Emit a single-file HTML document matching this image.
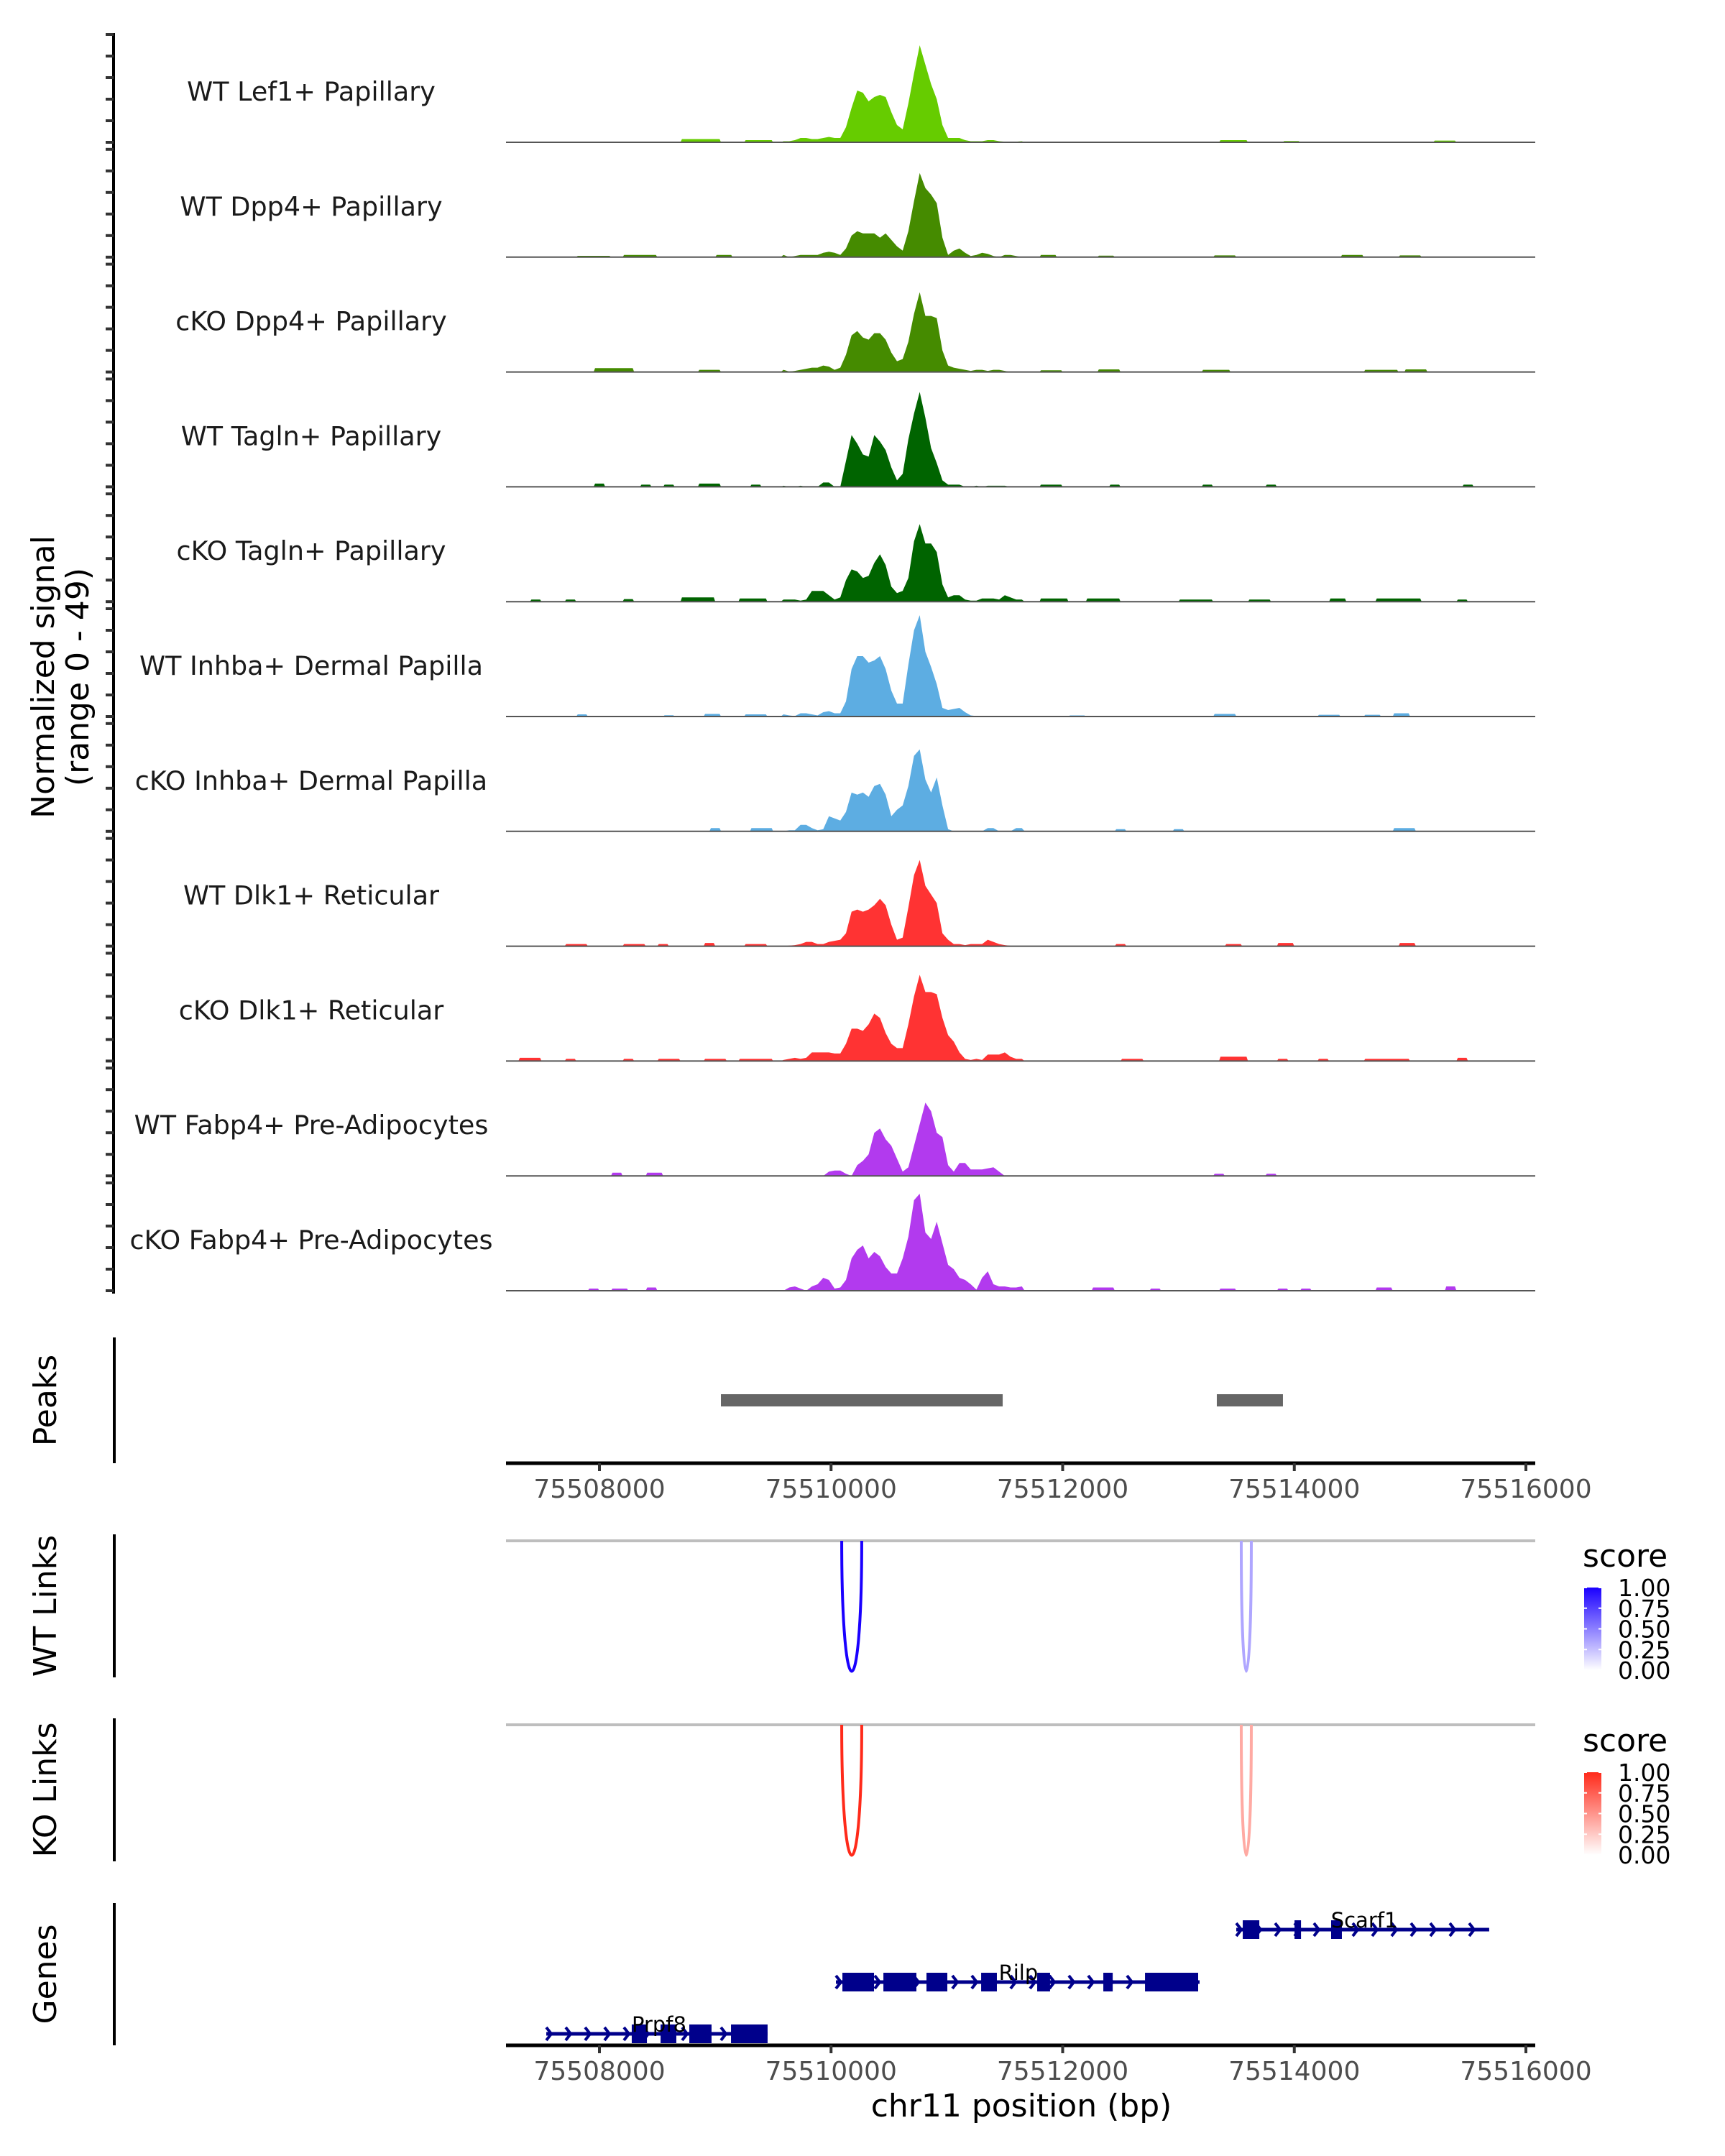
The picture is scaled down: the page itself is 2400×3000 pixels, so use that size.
<!DOCTYPE html>
<html><head><meta charset="utf-8"><style>
html,body{margin:0;padding:0;background:#fff;}
svg{display:block;font-family:"DejaVu Sans","Liberation Sans",sans-serif;}
</style></head><body>
<svg id="fig" width="2400" height="3000" viewBox="0 0 2400 3000" xmlns="http://www.w3.org/2000/svg">
<rect width="2400" height="3000" fill="#fff"/>
<defs>
<clipPath id="plotClip"><rect x="704" y="0" width="1432" height="1820"/></clipPath>
<linearGradient id="gBlue" x1="0" y1="1" x2="0" y2="0"><stop offset="0" stop-color="#ffffff"/><stop offset="1" stop-color="#1a00ff"/></linearGradient>
<linearGradient id="gRed" x1="0" y1="1" x2="0" y2="0"><stop offset="0" stop-color="#ffffff"/><stop offset="1" stop-color="#ff2a1a"/></linearGradient>
</defs>
<g id="tracks"></g>
<g id="peaks"></g>
<g id="links"></g>
<g id="genes"></g>
</svg>
<script>
// ---------- data ----------
const trackNames = ["WT Lef1+ Papillary","WT Dpp4+ Papillary","cKO Dpp4+ Papillary","WT Tagln+ Papillary","cKO Tagln+ Papillary","WT Inhba+ Dermal Papilla","cKO Inhba+ Dermal Papilla","WT Dlk1+ Reticular","cKO Dlk1+ Reticular","WT Fabp4+ Pre-Adipocytes","cKO Fabp4+ Pre-Adipocytes"];
const trackColors = ["#66cc00","#458b00","#458b00","#006400","#006400","#5dade2","#5dade2","#ff3333","#ff3333","#b23aee","#b23aee"];
const coreStart = 75509565;
const coreBinSize = 49;
const coreLef1 = [0.5,0.5,1,2,2,1.5,1.5,2,2.5,2,2,7,16,24,23,19,21,22,21,14,8,6,18,32,45,36,27,20,8,2,2,2,1,0.5,0.5,0.5,1,1,0.5,0.3,0.3,0.3,0.5];
const coreDpp4WT = [1,0,0.5,1,1,1,1,2,2.5,2,1,4,10,12,11,11,11,9,11,8,5,3,12,26,39,32,29,25,9,1,3,4,2,0.5,1,2,1.5,0.5,0,1,1,0.5,0];
const coreDpp4KO = [1,0.2,0.5,1,1.5,2,2,3,2.5,1,2,8,17,19,16,15,18,18,15,9,5,6,14,27,37,26,26,25,10,3,2,1.5,1,0.5,1,1,0.5,1,1,0.5,0,0,0];
const coreTaglnWT = [0.5,0,0,0.5,0,0,0,2,2,0,0,12,24,20,15,14,24,21,17,9,3,6,22,34,44,32,18,11,3,1,1,1,0,0,0.5,0,0.5,0.5,0.5,0.5,0,0,0];
const coreTaglnKO = [1,1,1,0.5,1,5,5,5,3,1,2,10,15,14,11,12,18,22,17,7,4,5,11,28,36,27,27,23,8,2,3,3,1,0.5,0.5,1.5,1.5,1.5,1,3,2,1,1];
const coreInhbaWT = [1,0.5,0.2,1.5,1.5,1,0.5,2,2.5,1.5,1.5,7,22,28,28,25,26,28,22,12,6,6,24,40,47,30,23,15,4,3,3.5,4,2,0.5,0.2,0.2,0.2,0.2,0.1,0,0,0,0];
const coreInhbaKO = [0,0.5,0.5,3,3,1.5,0.5,1,7,6,5,9,18,17,18,16,21,22,17,7,10,12,21,35,38,24,18,25,12,1,0,0,0,0,0,0,1.5,1.5,0,0,0,1.5,1.5];
const coreDlk1WT = [0,0.3,0.5,1,2,2,1,1,2,2.5,3,6,16,17,16,17,19,22,19,10,3,4,18,33,40,28,24,20,6,3,1,1,0.5,1,1,1,3,2,1,0.5,0.2,0,0];
const coreDlk1KO = [0.5,1,1.5,1,1.5,4,4,4,4,3.5,3.5,8,15,15,14,17,22,20,13,8,6,6,17,30,40,32,32,31,20,12,9,4,1,0.5,1,0.5,3,3,3,4,2,1,1];
const coreFabp4WT = [0,0,0,0,0,0,0,0,2,2.5,2.5,1,0,5,7,10,20,22,17,14,8,2,4,14,24,34,30,20,18,5,2,6,6,3,3,3,3.5,4,2,0,0,0,0];
const coreFabp4KO = [0,1.5,2,1,0,2,3,6,5,1,1.5,5,15,19,21,15,18,16,11,8,8,15,25,42,45,27,24,32,22,12,10,6,5,3,0.5,6,9,3,2,2,1.5,1.5,2];
const coreValues = [coreLef1,coreDpp4WT,coreDpp4KO,coreTaglnWT,coreTaglnKO,coreInhbaWT,coreInhbaKO,coreDlk1WT,coreDlk1KO,coreFabp4WT,coreFabp4KO];
// background bumps: [start bp, end bp, value]
const bgLef1 = [[75508700,75509050,1.5],[75509250,75509500,1],[75513350,75513600,1],[75513900,75514050,0.6],[75515200,75515400,0.8]];
const bgDpp4WT = [[75507800,75508100,0.6],[75508200,75508500,1],[75509000,75509150,1],[75511800,75511950,1],[75512300,75512450,0.7],[75513300,75513500,0.8],[75514400,75514600,1],[75514900,75515100,0.8]];
const bgDpp4KO = [[75507950,75508300,1.8],[75508850,75509050,1],[75511800,75512000,0.8],[75512300,75512500,1.2],[75513200,75513450,1],[75514600,75514900,1],[75514950,75515150,1.2]];
const bgTaglnWT = [[75507950,75508050,1.5],[75508350,75508450,1],[75508550,75508650,1],[75508850,75509050,1.5],[75509300,75509400,1],[75511800,75512000,1],[75512400,75512500,1],[75513200,75513300,1],[75513750,75513850,1],[75515450,75515550,1]];
const bgTaglnKO = [[75507400,75507500,1],[75507700,75507800,1],[75508200,75508300,1.2],[75508700,75509000,2],[75509200,75509450,1.5],[75511800,75512050,1.5],[75512200,75512500,1.5],[75513000,75513300,1],[75513600,75513800,1],[75514300,75514450,1.5],[75514700,75515100,1.5],[75515400,75515500,1]];
const bgInhbaWT = [[75507800,75507900,1],[75508550,75508650,0.6],[75508900,75509050,1.2],[75509250,75509450,1],[75512050,75512200,0.5],[75513300,75513500,1.2],[75514200,75514400,0.8],[75514600,75514750,0.8],[75514850,75515000,1.5]];
const bgInhbaKO = [[75508950,75509050,1.5],[75509300,75509500,1.5],[75512450,75512550,1],[75512950,75513050,1],[75514850,75515050,1.5]];
const bgDlk1WT = [[75507700,75507900,1],[75508200,75508400,1],[75508500,75508600,1],[75508900,75509000,1.5],[75509250,75509450,1],[75512450,75512550,1],[75513400,75513550,1],[75513850,75514000,1.5],[75514900,75515050,1.5]];
const bgDlk1KO = [[75507300,75507500,1.5],[75507700,75507800,1],[75508200,75508300,1],[75508500,75508700,1],[75508900,75509100,1],[75509200,75509500,1],[75512500,75512700,1],[75513350,75513600,2],[75513850,75513950,1],[75514200,75514300,1],[75514600,75515000,1],[75515400,75515500,1.5]];
const bgFabp4WT = [[75508100,75508200,1.5],[75508400,75508550,1.5],[75513300,75513400,1],[75513750,75513850,1]];
const bgFabp4KO = [[75507900,75508000,1],[75508100,75508250,1],[75508400,75508500,1.5],[75512250,75512450,1.5],[75512750,75512850,1],[75513350,75513500,1],[75513850,75513950,1],[75514050,75514150,1],[75514700,75514850,1.5],[75515300,75515400,2]];
const bgValues = [bgLef1,bgDpp4WT,bgDpp4KO,bgTaglnWT,bgTaglnKO,bgInhbaWT,bgInhbaKO,bgDlk1WT,bgDlk1KO,bgFabp4WT,bgFabp4KO];
const peakStarts = [75509049,75513331];
const peakEnds = [75511482,75513902];
const linkStarts = [75510092,75513542];
const linkEnds = [75510265,75513629];
const wtLinkScores = [1.0,0.35];
const koLinkScores = [1.0,0.4];
const xTicks = [75508000,75510000,75512000,75514000,75516000];
const legendTicks = [0,0.25,0.5,0.75,1];
const geneNames = ["Scarf1","Rilp","Prpf8"];
const geneStarts = [75513499,75510042,75507541];
const geneEnds = [75515683,75513182,75509452];
const geneExons = [
  [[75513555,75513698],[75514002,75514058],[75514318,75514411]],
  [[75510098,75510371],[75510452,75510737],[75510824,75511004],[75511296,75511432],[75511780,75511891],[75512351,75512432],[75512711,75513170]],
  [[75508279,75508410],[75508528,75508664],[75508776,75508968],[75509136,75509452]]
];
const geneLabelPos = [75514604,75511618,75508515];
const yTicks = [0,10,20,30,40,50];

// ---------- scales ----------
const NS = "http://www.w3.org/2000/svg";
function xs(bp){ return 834 + (bp - 75508000) * 0.161125; }
const plotL = 704, plotR = 2136;
const trackBase0 = 198, trackStep = 159.8, pxPerUnit = 3.0;
function ys(i, v){ return trackBase0 + i*trackStep - v*pxPerUnit; }
function el(tag, attrs, parent){ const e = document.createElementNS(NS, tag); for (const k in attrs) e.setAttribute(k, attrs[k]); parent.appendChild(e); return e; }

// ---------- coverage tracks ----------
const gT = document.getElementById('tracks');
const axisL = el('line',{x1:158,y1:46,x2:158,y2:1800,stroke:'#000','stroke-width':4},gT);


trackNames.forEach((name,i)=>{
  const g = el('g',{},gT);
  
  
  const gc = el('g',{'clip-path':'url(#plotClip)'},g);
  
  
  const base = ys(i,0);
  bgValues[i].forEach(b=>{
    const x1 = xs(b[0]), x2 = xs(b[1]), yv = ys(i,b[2]);
    const p = el('path',{d:`M${x1},${base}L${x1+2},${yv}L${x2-2},${yv}L${x2},${base}Z`,fill:trackColors[i]},gc);
    
    
  });
  const vals = coreValues[i];
  let d = `M${xs(coreStart)},${base}`;
  vals.forEach((v,k)=>{ d += `L${xs(coreStart + (k+0.5)*coreBinSize).toFixed(1)},${ys(i,v).toFixed(1)}`; });
  d += `L${xs(coreStart + vals.length*coreBinSize)},${base}Z`;
  const area = el('path',{d:d,fill:trackColors[i]},gc);
  
  
  const bl = el('line',{x1:plotL,y1:base,x2:plotR,y2:base,stroke:'#555','stroke-width':2},g);
  
  
  yTicks.forEach(t=>{
    const tk = el('line',{x1:147,y1:ys(i,t),x2:158,y2:ys(i,t),stroke:'#333','stroke-width':4},g);
    
    
  });
  const lab = el('text',{x:433,y:base-58,'text-anchor':'middle','font-size':36.5,fill:'#1a1a1a'},g);
  lab.textContent = name;
  
  
});
const yt = el('text',{transform:'translate(75,942) rotate(-90)','text-anchor':'middle','font-size':44,fill:'#000'},gT);


const t1 = el('tspan',{x:0,dy:0},yt); t1.textContent='Normalized signal';
const t2 = el('tspan',{x:0,dy:48},yt); t2.textContent='(range 0 - 49)';

// ---------- x axis helper ----------
function xAxis(parent, y, name){
  const g = el('g',{},parent);
  
  
  el('line',{x1:plotL,y1:y,x2:plotR,y2:y,stroke:'#000','stroke-width':5},g);
  xTicks.forEach(t=>{
    el('line',{x1:xs(t),y1:y,x2:xs(t),y2:y+11,stroke:'#333','stroke-width':4},g);
    const tx = el('text',{x:xs(t),y:y+48,'text-anchor':'middle','font-size':36,fill:'#4d4d4d'},g);
    tx.textContent = String(t);
    
    
  });
}
function panelTitle(parent, txt, y1, y2, name){
  const a = el('line',{x1:159,y1:y1,x2:159,y2:y2,stroke:'#000','stroke-width':4},parent);
  
  
  const t = el('text',{transform:`translate(78,${(y1+y2)/2}) rotate(-90)`,'text-anchor':'middle','font-size':44,fill:'#000'},parent);
  t.textContent = txt;
  
  
}

// ---------- peaks ----------
const gP = document.getElementById('peaks');
panelTitle(gP,'Peaks',1861,2036,'peaks');
peakStarts.forEach((s,k)=>{
  const r = el('rect',{x:xs(s),y:1940,width:xs(peakEnds[k])-xs(s),height:17,fill:'#666'},gP);
  
  
});
xAxis(gP,2036,'peaks-x-axis');

// ---------- links ----------
const gL = document.getElementById('links');
function linkPanel(title, y1, y2, lineY, depthY, scores, hue, grad, name, legY){
  panelTitle(gL,title,y1,y2,name);
  const base = el('line',{x1:plotL,y1:lineY,x2:plotR,y2:lineY,stroke:'#bebebe','stroke-width':4},gL);
  
  
  linkStarts.forEach((s,k)=>{
    const a = xs(s), b = xs(linkEnds[k]), dep = depthY - lineY;
    const sc = scores[k];
    const col = hue==='b' ? `rgb(${Math.round(255-229*sc)},${Math.round(255-255*sc)},255)` : `rgb(255,${Math.round(255-213*sc)},${Math.round(255-229*sc)})`;
    const p = el('path',{d:`M${a},${lineY}C${a},${lineY+dep*1.33} ${b},${lineY+dep*1.33} ${b},${lineY}`,fill:'none',stroke:col,'stroke-width':4},gL);
    
    
  });
  const lg = el('g',{},gL);
  
  
  const st = el('text',{x:2202,y:legY-27,'font-size':44,fill:'#000'},lg); st.textContent='score';
  const bt = legY+2, bb = legY+117;
  el('rect',{x:2204,y:bt,width:24,height:bb-bt,fill:`url(#${grad})`},lg);
  legendTicks.forEach(t=>{
    const yy = bb - t*(bb-bt);
    el('line',{x1:2204,y1:yy,x2:2208,y2:yy,stroke:'#fff','stroke-width':2},lg);
    el('line',{x1:2224,y1:yy,x2:2228,y2:yy,stroke:'#fff','stroke-width':2},lg);
    const tx = el('text',{x:2251,y:yy+12,'font-size':33,fill:'#000'},lg);
    tx.textContent = t.toFixed(2);
  });
}
linkPanel('WT Links',2135,2334,2144,2326,wtLinkScores,'b','gBlue','wt-links',2207);
linkPanel('KO Links',2391,2590,2400,2582,koLinkScores,'r','gRed','ko-links',2464);

// ---------- genes ----------
const gG = document.getElementById('genes');
panelTitle(gG,'Genes',2648,2846,'genes');
const geneY = [2685,2758,2830];
geneNames.forEach((n,k)=>{
  const g = el('g',{},gG);
  
  
  const y = geneY[k], a = xs(geneStarts[k]), b = xs(geneEnds[k]);
  el('line',{x1:a,y1:y,x2:b,y2:y,stroke:'#00008b','stroke-width':5},g);
  for (let x = a+4; x <= b; x += 27){
    el('path',{d:`M${x-4},${y-9}L${x+3},${y}L${x-4},${y+9}`,fill:'none',stroke:'#00008b','stroke-width':4},g);
  }
  geneExons[k].forEach(e=>{
    const r = el('rect',{x:xs(e[0]),y:y-13,width:xs(e[1])-xs(e[0]),height:26,fill:'#00008b'},g);
    
    
  });
  const lt = el('text',{x:xs(geneLabelPos[k]),y:y-3,'text-anchor':'middle','font-size':29,fill:'#000'},g);
  lt.textContent = n;
  
  
});
xAxis(gG,2846,'genes-x-axis');
const xt = el('text',{x:1421,y:2945,'text-anchor':'middle','font-size':44,fill:'#000'},gG);
xt.textContent = 'chr11 position (bp)';


</script>
</body></html>
